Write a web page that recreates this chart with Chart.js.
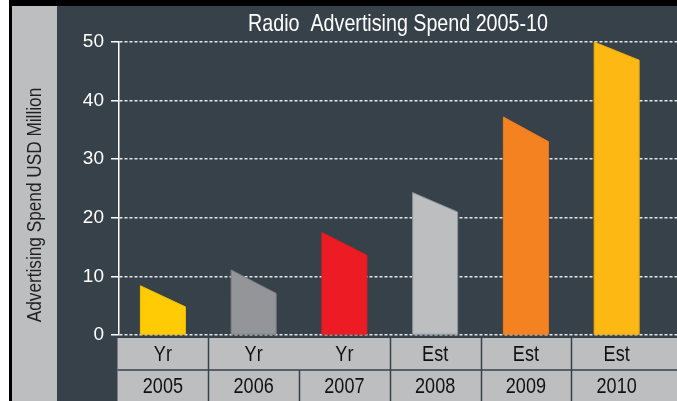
<!DOCTYPE html>
<html>
<head>
<meta charset="utf-8">
<title>Radio Advertising Spend 2005-10</title>
<script src="https://cdn.jsdelivr.net/npm/chart.js@4/dist/chart.umd.min.js"></script>
<style>
  html, body { margin: 0; padding: 0; background: #ffffff; }
  #wrap { width: 677px; height: 401px; }
</style>
</head>
<body>
<div id="wrap"><canvas id="chart" width="677" height="401"></canvas></div>
<script>
// Years and the period type shown in the table under the bars
const years = ['2005', '2006', '2007', '2008', '2009', '2010'];
const periodTypes = ['Yr', 'Yr', 'Yr', 'Est', 'Est', 'Est'];

// Spend in USD million: height at the left (peak) and right edge of each slanted bar
const spendPeak = [8.4, 11.1, 17.5, 24.3, 37.2, 50];
const spendEdge = [4.8, 7.1, 13.6, 21.0, 33.0, 46.9];

// Value axis range and step
const yMin = 0, yMax = 50, yStep = 10;

const barColors  = ['#FFCB05', '#939598', '#ED1C24', '#BCBEC0', '#F58220', '#FDB813'];
const barOutline = ['#F2C000', '#7E8185', '#E11B22', '#8C949A', '#EE7C1E', '#EFAC10'];

const PANEL_BG = '#36414A';
const SIDE_GREY = '#BCBEC0';
const SANS = "'Liberation Sans', Arial, Helvetica, sans-serif";
const NARROW_SCALE = 0.82;

// Condensed text: regular sans squeezed horizontally around its anchor
function narrowText(ctx, text, x, y, size, color, angle) {
  ctx.save();
  ctx.translate(x, y);
  if (angle) ctx.rotate(angle);
  ctx.scale(NARROW_SCALE, 1);
  ctx.fillStyle = color;
  ctx.font = size + 'px ' + SANS;
  ctx.textAlign = 'center';
  ctx.textBaseline = 'middle';
  ctx.fillText(text, 0, 0);
  ctx.restore();
}

// Background, frame, side strip, titles
const backdrop = {
  id: 'backdrop',
  beforeDraw(chart) {
    const { ctx, width, height, chartArea } = chart;
    ctx.save();
    ctx.fillStyle = PANEL_BG;
    ctx.fillRect(0, 0, width, height);
    // frame
    ctx.fillStyle = '#ffffff';
    ctx.fillRect(0, 0, 9, height);
    ctx.fillStyle = '#000000';
    ctx.fillRect(9, 0, width - 9, 6);
    ctx.fillRect(9, 0, 3, height);
    // grey side strip
    ctx.fillStyle = SIDE_GREY;
    ctx.fillRect(12, 6, 45, height - 6);
    ctx.restore();
    narrowText(ctx, 'Advertising Spend USD Million', 35, 205, 21, '#231F20', -Math.PI / 2);
    narrowText(ctx, 'Radio  Advertising Spend 2005-10', (chartArea.left + chartArea.right) / 2, 24, 24, '#ffffff', 0);
  }
};

// Bars with a sloping top: left corner at the peak value, right corner at the edge value
const slantedBars = {
  id: 'slantedBars',
  beforeDatasetDraw(chart, args) {
    const { ctx } = chart;
    const yScale = chart.scales.y;
    const area = chart.chartArea;
    ctx.save();
    ctx.beginPath();
    ctx.rect(area.left, area.top - 2, area.right - area.left, area.bottom - area.top + 2);
    ctx.clip();
    args.meta.data.forEach((bar, i) => {
      const { x, y, width, base } = bar.getProps(['x', 'y', 'width', 'base'], true);
      const l = x - width / 2;
      const r = x + width / 2;
      const yr = yScale.getPixelForValue(spendEdge[i]);
      ctx.beginPath();
      ctx.moveTo(l, base);
      ctx.lineTo(l, y);
      ctx.lineTo(r, yr);
      ctx.lineTo(r, base);
      ctx.closePath();
      ctx.fillStyle = barColors[i];
      ctx.fill();
      ctx.lineWidth = 1;
      ctx.strokeStyle = barOutline[i];
      ctx.stroke();
    });
    ctx.restore();
    return false;
  }
};

// Category table below the plot: period type row and year row
const categoryTable = {
  id: 'categoryTable',
  afterDraw(chart) {
    const { ctx, width, height } = chart;
    const xs = chart.scales.x;
    const top = chart.chartArea.bottom + 3;
    const mid = top + 32;
    const left = xs.getPixelForValue(-0.5);
    ctx.save();
    ctx.fillStyle = SIDE_GREY;
    ctx.fillRect(left, top, width - left, height - top);
    ctx.strokeStyle = PANEL_BG;
    ctx.lineWidth = 1.5;
    ctx.beginPath();
    ctx.moveTo(left, mid);
    ctx.lineTo(width, mid);
    ctx.stroke();
    for (let i = 1; i < years.length; i++) {
      const bx = Math.round(xs.getPixelForValue(i - 0.5)) + 0.5;
      ctx.beginPath();
      // the upper row merges neighbouring cells with the same period type
      ctx.moveTo(bx, periodTypes[i] === periodTypes[i - 1] && i === 2 ? mid : top);
      ctx.lineTo(bx, height);
      ctx.stroke();
    }
    ctx.restore();
    years.forEach((yr, i) => {
      const cx = xs.getPixelForValue(i);
      narrowText(ctx, periodTypes[i], cx, (top + mid) / 2 + 1, 22, '#111111', 0);
      narrowText(ctx, yr, cx, (mid + height) / 2 + 1, 22, '#111111', 0);
    });
  }
};

new Chart(document.getElementById('chart'), {
  type: 'bar',
  data: {
    datasets: [{
      label: 'Radio advertising spend',
      data: years.map((yr, i) => ({ x: i, y: spendPeak[i] })),
      backgroundColor: barColors,
      borderWidth: 0,
      barThickness: 45
    }]
  },
  options: {
    responsive: false,
    maintainAspectRatio: false,
    devicePixelRatio: 1,
    animation: false,
    layout: { padding: { top: 42, bottom: 66, left: 0, right: 0 } },
    plugins: {
      legend: { display: false },
      title: { display: false },
      tooltip: { enabled: false }
    },
    scales: {
      x: {
        type: 'linear',
        display: false,
        offset: false,
        min: -0.4835,
        max: 5.665
      },
      y: {
        min: yMin,
        max: yMax,
        afterFit(scale) { scale.width = 119; },
        ticks: {
          stepSize: yStep,
          color: '#ffffff',
          padding: 7,
          font: { family: SANS, size: 19 }
        },
        grid: {
          color: '#E6E7E8',
          lineWidth: 1.5,
          tickLength: 8,
          tickColor: '#ffffff',
          tickWidth: 1.5,
          tickBorderDash: []
        },
        border: {
          display: true,
          color: '#ffffff',
          width: 1.5,
          dash: [3, 2]
        }
      }
    }
  },
  plugins: [backdrop, slantedBars, categoryTable]
});
</script>
</body>
</html>
